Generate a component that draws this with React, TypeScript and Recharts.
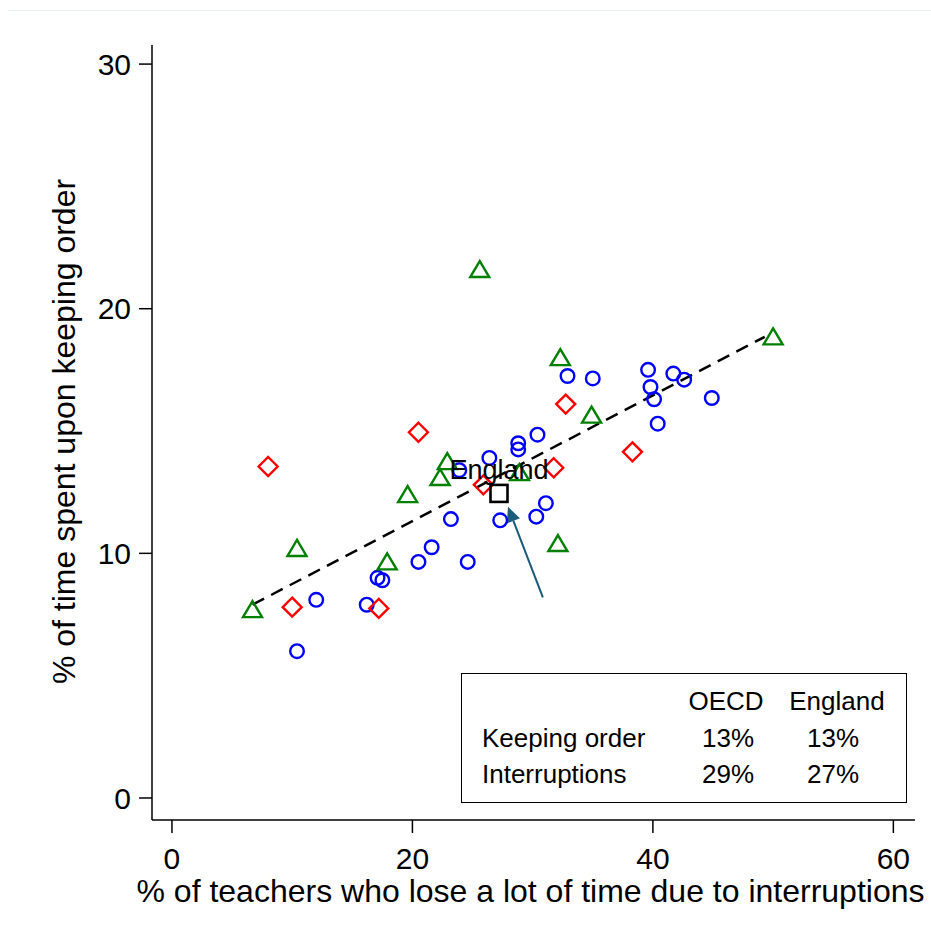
import React from "react";
import {
  ScatterChart,
  Scatter,
  XAxis,
  YAxis,
  ReferenceLine,
  Label,
} from "recharts";

const FONT = "'Liberation Sans', Arial, Helvetica, sans-serif";

// countries by marker group: x = % teachers losing time to interruptions, y = % time keeping order
const circlePoints = [
  { x: 10.4, y: 6.0 }, { x: 12.0, y: 8.1 }, { x: 16.2, y: 7.9 }, { x: 17.1, y: 9.0 },
  { x: 17.5, y: 8.9 }, { x: 20.5, y: 9.65 }, { x: 21.6, y: 10.25 }, { x: 23.2, y: 11.4 },
  { x: 24.6, y: 9.65 }, { x: 23.9, y: 13.4 }, { x: 26.4, y: 13.9 }, { x: 27.3, y: 11.35 },
  { x: 28.8, y: 14.5 }, { x: 28.8, y: 14.25 }, { x: 30.4, y: 14.85 }, { x: 30.3, y: 11.5 },
  { x: 31.1, y: 12.05 }, { x: 32.9, y: 17.25 }, { x: 35.0, y: 17.15 }, { x: 39.6, y: 17.5 },
  { x: 39.8, y: 16.8 }, { x: 40.1, y: 16.3 }, { x: 41.7, y: 17.35 }, { x: 42.6, y: 17.1 },
  { x: 40.4, y: 15.3 }, { x: 44.9, y: 16.35 },
];

const trianglePoints = [
  { x: 6.7, y: 7.7 }, { x: 10.4, y: 10.2 }, { x: 17.9, y: 9.65 }, { x: 19.6, y: 12.4 },
  { x: 22.3, y: 13.1 }, { x: 22.9, y: 13.75 }, { x: 25.6, y: 21.6 }, { x: 28.9, y: 13.3 },
  { x: 32.3, y: 18.0 }, { x: 34.9, y: 15.65 }, { x: 32.1, y: 10.4 }, { x: 50.0, y: 18.85 },
];

const diamondPoints = [
  { x: 8.0, y: 13.55 }, { x: 10.0, y: 7.8 }, { x: 17.2, y: 7.75 }, { x: 20.5, y: 14.95 },
  { x: 25.9, y: 12.8 }, { x: 31.75, y: 13.5 }, { x: 32.75, y: 16.1 }, { x: 38.3, y: 14.15 },
];

const englandPoint = [{ x: 27.2, y: 12.45 }];

const fitLine = [{ x: 6.7, y: 7.9 }, { x: 49.3, y: 18.85 }];
const arrowLine = [{ x: 30.85, y: 8.2 }, { x: 27.95, y: 11.9 }];

const xTicks = [0, 20, 40, 60];
const yTicks = [0, 10, 20, 30];

const tableCols = ["OECD", "England"];
const tableRows = ["Keeping order", "Interruptions"];
const oecdValues = ["13%", "29%"];
const englandValues = ["13%", "27%"];

const Circle = ({ cx, cy }: any) => (
  <circle cx={cx} cy={cy} r={6.8} fill="none" stroke="#0000ff" strokeWidth={2.4} />
);

const Triangle = ({ cx, cy }: any) => (
  <polygon
    points={`${cx},${cy - 8.5} ${cx - 9.5},${cy + 7.5} ${cx + 9.5},${cy + 7.5}`}
    fill="none"
    stroke="#008000"
    strokeWidth={2.4}
  />
);

const Diamond = ({ cx, cy }: any) => (
  <polygon
    points={`${cx},${cy - 9.5} ${cx + 9.5},${cy} ${cx},${cy + 9.5} ${cx - 9.5},${cy}`}
    fill="none"
    stroke="#ff0000"
    strokeWidth={2.4}
  />
);

const EnglandMarker = ({ cx, cy }: any) => (
  <g>
    <rect x={cx - 8.5} y={cy - 8.5} width={17} height={17} fill="none" stroke="#000" strokeWidth={2.6} />
    <text x={cx} y={cy - 14} textAnchor="middle" fontSize={27} fontFamily={FONT} fill="#000">
      England
    </text>
  </g>
);

// arrow pointing at England, head drawn at the segment end
const Arrow = ({ x1, y1, x2, y2 }: any) => {
  const dx = x2 - x1;
  const dy = y2 - y1;
  const len = Math.sqrt(dx * dx + dy * dy) || 1;
  const ux = dx / len;
  const uy = dy / len;
  const hl = 15;
  const hw = 7;
  const bx = x2 - ux * hl;
  const by = y2 - uy * hl;
  return (
    <g>
      <line x1={x1} y1={y1} x2={bx} y2={by} stroke="#1a5a7a" strokeWidth={2} />
      <polygon
        points={`${x2},${y2} ${bx - uy * hw},${by + ux * hw} ${bx + uy * hw},${by - ux * hw}`}
        fill="#1a5a7a"
      />
    </g>
  );
};

const tickStyle = { fontSize: 30, fill: "#000", fontFamily: FONT };

const cell = (center: number, top: number): React.CSSProperties => ({
  position: "absolute",
  top,
  left: center - 60,
  width: 120,
  textAlign: "center",
  lineHeight: "30px",
});

export default function App() {
  return (
    <div style={{ position: "absolute", left: 0, top: 0, width: 931, height: 941, background: "#fff" }}>
      <div style={{ position: "absolute", left: 8, top: 10, width: 923, height: 1, background: "#e6ecec" }} />
      <ScatterChart width={931} height={941} margin={{ top: 45, right: 16, left: 0, bottom: 0 }}>
        <XAxis
          type="number"
          dataKey="x"
          domain={[-1.66, 61.8]}
          ticks={xTicks}
          allowDataOverflow
          height={121}
          tickSize={13}
          tickMargin={15}
          tick={tickStyle}
          axisLine={{ stroke: "#000", strokeWidth: 1.5 }}
          tickLine={{ stroke: "#000", strokeWidth: 1.5 }}
        >
          <Label
            content={({ viewBox }: any) => (
              <text
                x={viewBox.x + viewBox.width / 2 - 3}
                y={902}
                textAnchor="middle"
                fontSize={32}
                fontFamily={FONT}
                fill="#000"
              >
                % of teachers who lose a lot of time due to interruptions
              </text>
            )}
          />
        </XAxis>
        <YAxis
          type="number"
          dataKey="y"
          domain={[-0.9, 30.78]}
          ticks={yTicks}
          allowDataOverflow
          width={152}
          tickSize={13}
          tickMargin={8}
          tick={tickStyle}
          axisLine={{ stroke: "#000", strokeWidth: 1.5 }}
          tickLine={{ stroke: "#000", strokeWidth: 1.5 }}
        >
          <Label
            content={({ viewBox }: any) => {
              const cy = viewBox.y + viewBox.height / 2 - 1;
              return (
                <text
                  x={75}
                  y={cy}
                  transform={`rotate(-90 75 ${cy})`}
                  textAnchor="middle"
                  fontSize={32}
                  fontFamily={FONT}
                  fill="#000"
                >
                  % of time spent upon keeping order
                </text>
              );
            }}
          />
        </YAxis>
        <ReferenceLine
          segment={fitLine}
          stroke="#000"
          strokeWidth={2.5}
          strokeDasharray="13 8"
          ifOverflow="visible"
        />
        <Scatter data={circlePoints} shape={Circle} isAnimationActive={false} />
        <Scatter data={trianglePoints} shape={Triangle} isAnimationActive={false} />
        <Scatter data={diamondPoints} shape={Diamond} isAnimationActive={false} />
        <Scatter data={englandPoint} shape={EnglandMarker} isAnimationActive={false} />
        <ReferenceLine segment={arrowLine} ifOverflow="visible" shape={Arrow} />
      </ScatterChart>
      <div
        style={{
          position: "absolute",
          left: 461,
          top: 673,
          width: 444,
          height: 128,
          border: "1.5px solid #000",
          fontFamily: FONT,
          fontSize: 26,
          color: "#000",
        }}
      >
        <div style={cell(264, 12)}>{tableCols[0]}</div>
        <div style={cell(375, 12)}>{tableCols[1]}</div>
        {tableRows.map((r, i) => (
          <React.Fragment key={r}>
            <div style={{ position: "absolute", top: 49 + i * 36, left: 20, lineHeight: "30px" }}>{r}</div>
            <div style={cell(266, 49 + i * 36)}>{oecdValues[i]}</div>
            <div style={cell(371, 49 + i * 36)}>{englandValues[i]}</div>
          </React.Fragment>
        ))}
      </div>
    </div>
  );
}
